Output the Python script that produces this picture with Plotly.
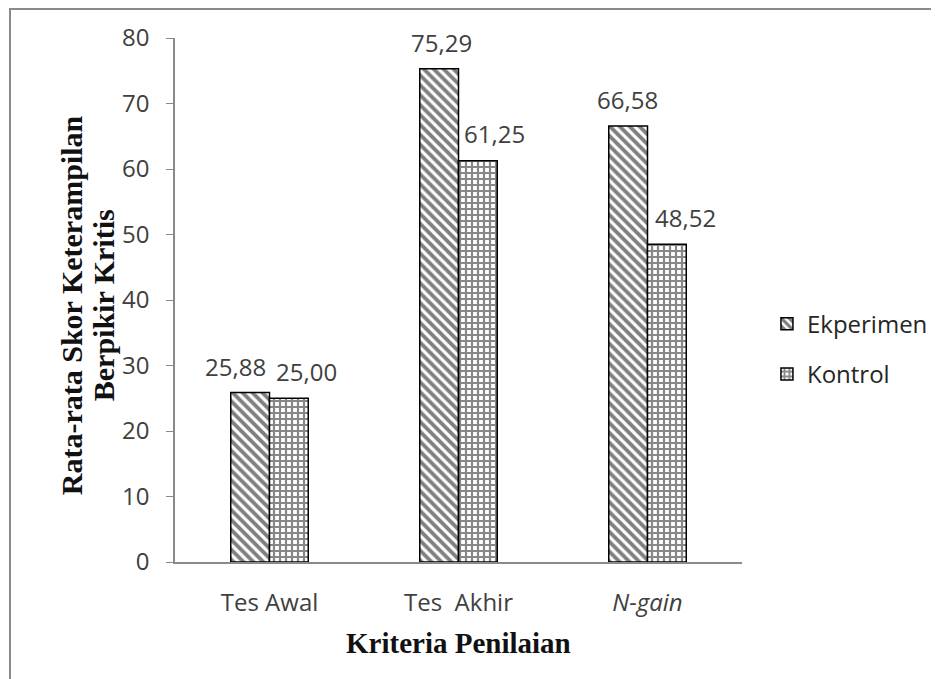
import plotly.graph_objects as go

categories = ["Tes Awal", "Tes Akhir", "N-gain"]
tick_labels = ["Tes Awal", "Tes\u00a0 Akhir", "<i>N-gain</i>"]
ekperimen = [25.88, 75.29, 66.58]
kontrol = [25.00, 61.25, 48.52]
y_ticks = [0, 10, 20, 30, 40, 50, 60, 70, 80]

# label offsets (pixels) used for placing value labels beside the bars
eksp_label_dx = [-34, -17, -20]
kont_label_dx = [37, 36, 38]

def fmt(v):
    return f"{v:.2f}".replace(".", ",")

SANS = "Open Sans"
SERIF = "Liberation Serif"

fig = go.Figure()
fig.add_trace(go.Bar(
    name="Ekperimen", x=categories, y=ekperimen,
    marker=dict(color="white", line=dict(color="#000", width=1.5),
                pattern=dict(shape="\\", fgcolor="#000", bgcolor="white", size=7, solidity=0.55)),
    legendgroup="a",
))
fig.add_trace(go.Bar(
    name="Kontrol", x=categories, y=kontrol,
    marker=dict(color="white", line=dict(color="#000", width=1.5),
                pattern=dict(shape="+", fgcolor="#111", bgcolor="white", size=6, solidity=0.6)),
    legendgroup="b",
))

annots = []
for c, v, dx in zip(categories, ekperimen, eksp_label_dx):
    annots.append(dict(x=c, y=v, xref="x", yref="y", text=fmt(v), showarrow=False,
                       xshift=dx, yshift=26, font=dict(size=24, color="#404040", family=SANS)))
for c, v, dx in zip(categories, kontrol, kont_label_dx):
    annots.append(dict(x=c, y=v, xref="x", yref="y", text=fmt(v), showarrow=False,
                       xshift=dx, yshift=27, font=dict(size=24, color="#404040", family=SANS)))

title_font = dict(size=30, color="#111", family=SERIF, weight="bold")
annots.append(dict(x=-0.1835, y=0.49, xref="paper", yref="paper", text="Rata-rata Skor Keterampilan",
                   textangle=-90, showarrow=False, xanchor="center", yanchor="middle", font=title_font))
annots.append(dict(x=-0.127, y=0.49, xref="paper", yref="paper", text="Berpikir Kritis",
                   textangle=-90, showarrow=False, xanchor="center", yanchor="middle", font=title_font))
annots.append(dict(x=0.5, y=-0.155, xref="paper", yref="paper", text="Kriteria Penilaian",
                   showarrow=False, xanchor="center", yanchor="middle",
                   font=dict(size=29, color="#111", family=SERIF, weight="bold")))

fig.update_layout(
    width=939, height=679,
    margin=dict(l=167, r=205, t=30, b=125),
    paper_bgcolor="white", plot_bgcolor="white",
    barmode="group", bargap=0.59, bargroupgap=0,
    showlegend=True,
    legend=dict(x=1.044, y=0.406, xanchor="left", yanchor="middle",
                font=dict(size=24, color="#262626", family=SANS),
                tracegroupgap=16, itemwidth=30, bgcolor="rgba(0,0,0,0)"),
    annotations=annots,
    shapes=[dict(type="rect", xref="paper", yref="paper", x0=-0.291, x1=1.6, y0=-0.5, y1=1.0553,
                 line=dict(color="#8a8a8a", width=2), layer="below")],
    xaxis=dict(tickvals=categories, ticktext=tick_labels, showline=True, linecolor="#8a8a8a",
               linewidth=1.5, ticks="", showgrid=False, range=[-0.5, 2.5], ticklabelstandoff=18,
               tickfont=dict(size=24, color="#404040", family=SANS)),
    yaxis=dict(range=[0, 80], tickvals=y_ticks, showline=True, linecolor="#8a8a8a", linewidth=1.5,
               ticks="outside", ticklen=7, tickcolor="#8a8a8a", showgrid=False, zeroline=False,
               ticklabelstandoff=12,
               tickfont=dict(size=24, color="#404040", family=SANS)),
)

fig.write_html("out.html")
